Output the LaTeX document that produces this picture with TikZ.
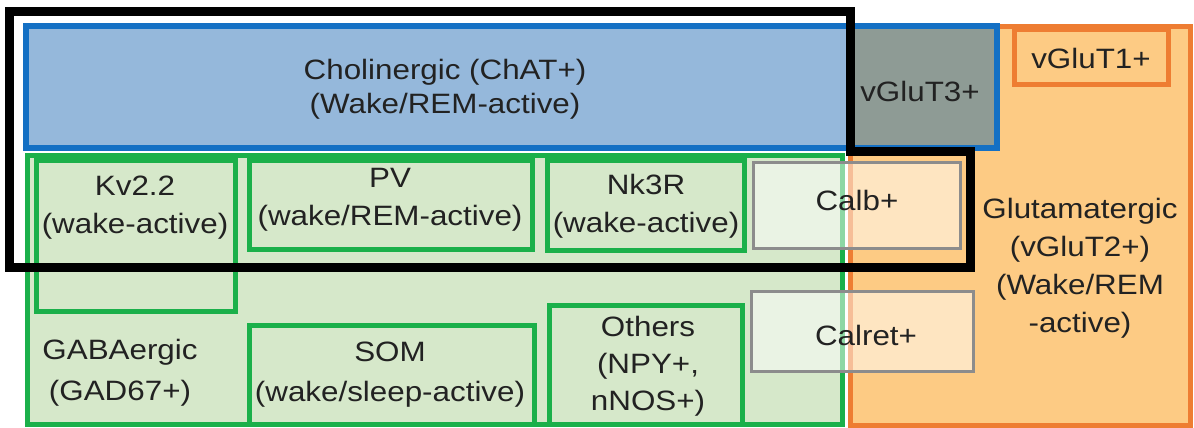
\documentclass[tikz,border=0pt]{standalone}
\usepackage{fontspec}
\setmainfont{Liberation Sans}[FakeStretch=1.12]
\definecolor{bluefill}{HTML}{95B8DB}
\definecolor{blueline}{HTML}{1470C4}
\definecolor{grayfill}{HTML}{8E9B95}
\definecolor{greenfill}{HTML}{D6E8CA}
\definecolor{greenline}{HTML}{1BB04A}
\definecolor{orangefill}{HTML}{FDCB84}
\definecolor{orangeline}{HTML}{EE7D32}
\definecolor{calbline}{HTML}{8C8C8C}
\definecolor{txt}{HTML}{222222}
\begin{document}
\begin{tikzpicture}[x=1pt,y=-1pt,
  lbl/.style={text=txt, font=\fontsize{28}{38}\selectfont, align=center, inner sep=0pt},
  gbox/.style={draw=greenline, line width=5pt},
  obox/.style={draw=orangeline, line width=5pt},
  cbox/.style={draw=calbline, line width=3pt, fill=white, fill opacity=0.5},
  bbox/.style={draw=blueline, line width=6pt},
  blk/.style={draw=black, line width=9pt, line join=miter}]
\useasboundingbox (0,0) rectangle (1194,428);
% glutamatergic
\draw[obox, fill=orangefill] (850.5,26.5) rectangle (1190,425);
\draw[obox] (1014.5,29.5) rectangle (1168,84.5);
% GABAergic
\draw[gbox, fill=greenfill] (27,155) rectangle (842.5,424);
\draw[gbox] (36.5,160.5) rectangle (235.5,311.5);
\draw[gbox] (249,160.5) rectangle (532,249.5);
\draw[gbox] (547.5,160.5) rectangle (744.5,250);
\draw[gbox] (249,325) rectangle (534,424);
\draw[gbox] (549,305.5) rectangle (742,424);
% calcium binding
\draw[cbox] (753.5,162) rectangle (960,248.5);
\draw[cbox] (751.5,291.5) rectangle (973.5,371.5);
% cholinergic
\fill[bluefill] (26,26.5) rectangle (996.5,147.5);
\fill[grayfill] (850,26.5) rectangle (996.5,147.5);
\draw[bbox] (26,26.5) rectangle (996.5,147.5);
% black outline
\draw[blk] (9.5,11.5) -- (850,11.5) -- (850,151.5) -- (970,151.5) -- (970,267) -- (9.5,267) -- cycle;
% labels
\node[lbl, font=\fontsize{28}{34}\selectfont] (chol) at (445,89) {Cholinergic (ChAT+)\\(Wake/REM-active)};
\node[lbl] (vg3) at (920,91) {vGluT3+};
\node[lbl] (vg1) at (1091,58) {vGluT1+};
\node[lbl] (glu) at (1080,268) {Glutamatergic\\(vGluT2+)\\(Wake/REM\\-active)};
\node[lbl] (kv) at (135,208) {Kv2.2\\(wake-active)};
\node[lbl] (pv) at (390,200) {PV\\(wake/REM-active)};
\node[lbl] (nk) at (646,206) {Nk3R\\(wake-active)};
\node[lbl] (calb) at (857,200) {Calb+};
\node[lbl] (calret) at (866,335) {Calret+};
\node[lbl, font=\fontsize{28}{41}\selectfont] (gaba) at (120,373) {GABAergic\\(GAD67+)};
\node[lbl, font=\fontsize{28}{40}\selectfont] (som) at (390,375) {SOM\\(wake/sleep-active)};
\node[lbl, font=\fontsize{28}{37}\selectfont] (oth) at (648,366) {Others\\(NPY+,\\nNOS+)};
\end{tikzpicture}
\end{document}
